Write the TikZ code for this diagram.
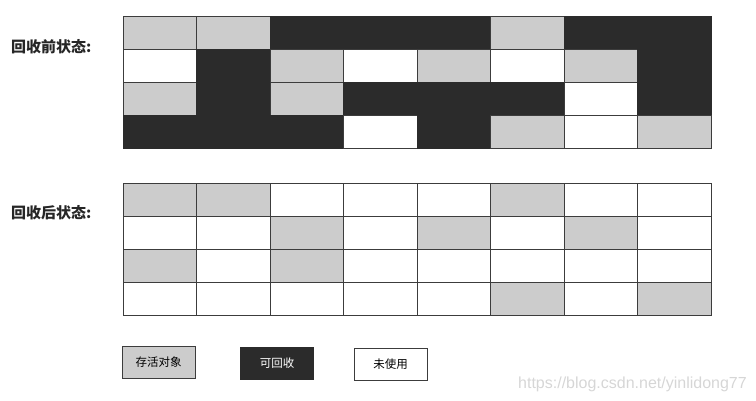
\documentclass[tikz,border=0pt]{standalone}
\usepackage{fontspec}
\newfontfamily\cjk{Noto Sans CJK SC}
\setsansfont{Liberation Sans}
\definecolor{cG}{HTML}{CCCCCC}
\definecolor{cB}{HTML}{2B2B2B}
\definecolor{cW}{HTML}{FFFFFF}
\definecolor{dG}{HTML}{3C3C3C}
\definecolor{dB}{HTML}{2B2B2B}
\definecolor{dW}{HTML}{3C3C3C}
\definecolor{wm}{HTML}{D6D6D6}
\tikzset{
  statelabel/.style={anchor=west,inner sep=0pt,font=\cjk\bfseries\fontsize{15}{15}\selectfont,text=black!85},
  legendbox/.style={minimum width=73pt,minimum height=32pt,inner sep=0pt,line width=0.9pt,font=\cjk\fontsize{11.5}{11.5}\selectfont},
}
\begin{document}
\begin{tikzpicture}[x=1pt,y=-1pt]
\useasboundingbox (0,0) rectangle (756,401);
% top grid
\foreach \row [count=\r] in {{G,G,B,B,B,G,B,B},{W,B,G,W,G,W,G,B},{G,B,G,B,B,B,W,B},{B,B,B,W,B,G,W,G}}{
  \foreach \c [count=\k] in \row {
    \path[fill=c\c,draw=d\c,line width=0.8pt] ({123+(\k-1)*73.5},{16+(\r-1)*33}) rectangle ++(73.5,33);
  }
}
% bottom grid
\foreach \row [count=\r] in {{G,G,W,W,W,G,W,W},{W,W,G,W,G,W,G,W},{G,W,G,W,W,W,W,W},{W,W,W,W,W,G,W,G}}{
  \foreach \c [count=\k] in \row {
    \path[fill=c\c,draw=d\c,line width=0.8pt] ({123+(\k-1)*73.5},{183+(\r-1)*33}) rectangle ++(73.5,33);
  }
}
\node[statelabel] (before) at (11,47) {回收前状态:};
\node[statelabel] (after) at (11,213) {回收后状态:};
\node[legendbox,fill=cG,draw=dG] (live) at (158.5,362.5) {存活对象};
\node[legendbox,fill=cB,draw=cB,text=white] (dead) at (277,363) {可回收};
\node[legendbox,fill=white,draw=dG] (free) at (390.5,364) {未使用};
\node[anchor=base east,inner sep=0pt,text=wm,font=\sffamily\fontsize{16}{16}\selectfont] (wmark) at (747,388) {https://blog.csdn.net/yinlidong77};
\end{tikzpicture}
\end{document}
